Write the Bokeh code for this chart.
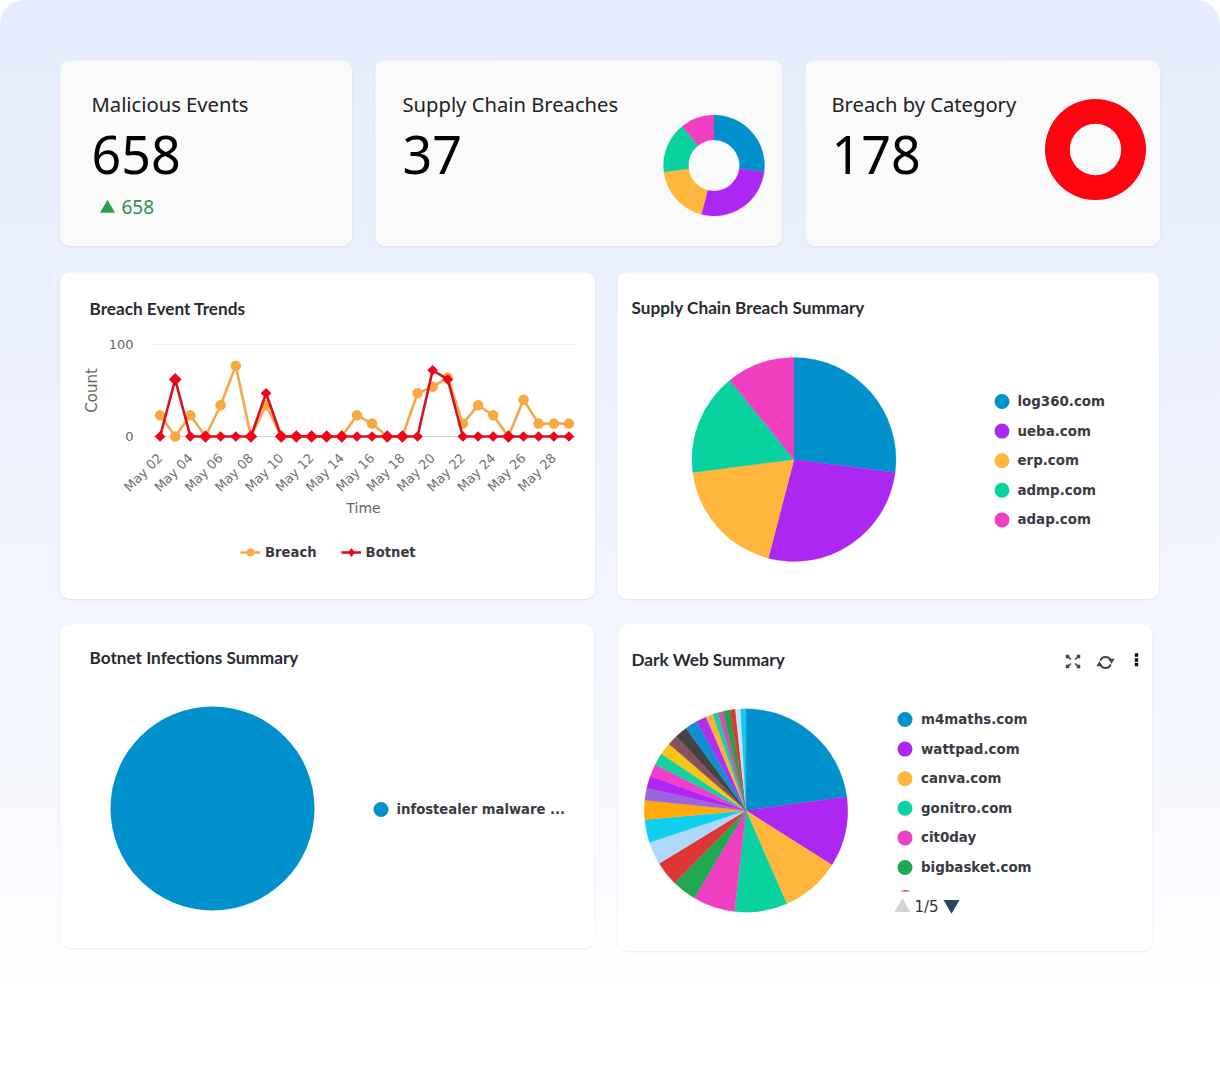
import math
from bokeh.core.properties import value
from bokeh.embed import file_html
from bokeh.layouts import column, row
from bokeh.models import (ColumnDataSource, FixedTicker, Label, Legend, LegendItem,
                          LinearAxis, Range1d)
from bokeh.plotting import figure
from bokeh.resources import INLINE

# ---------------- data ----------------
kpi_titles = ["Malicious Events", "Supply Chain Breaches", "Breach by Category"]
kpi_values = ["658", "37", "178"]
kpi_delta = "658"

days = list(range(2, 30))
tick_days = list(range(2, 29, 2))
tick_labels = ["May %02d" % d for d in tick_days]
breach = [23, 0, 23, 0, 34, 77, 0, 34, 0, 0, 0, 0, 0, 23, 14, 0, 0, 47, 54, 64, 14, 34, 23, 0, 40, 14, 14, 14]
botnet = [0, 62, 0, 0, 0, 0, 0, 47, 0, 0, 0, 0, 0, 0, 0, 0, 0, 0, 72, 62, 0, 0, 0, 0, 0, 0, 0, 0]

supply_names = ["log360.com", "ueba.com", "erp.com", "admp.com", "adap.com"]
supply_values = [10, 10, 7, 6, 4]
supply_colors = ["#0091cd", "#ad27f2", "#ffb63c", "#0ad1a0", "#f03fc0"]

category_values = [178]
category_colors = ["#fe0310"]

botnet_names = ["infostealer malware ..."]
botnet_values = [1]
botnet_colors = ["#0091cd"]

dark_names = ["m4maths.com", "wattpad.com", "canva.com", "gonitro.com", "cit0day", "bigbasket.com"]
dark_values = [82, 40, 34, 30, 24, 14, 14, 13, 13, 11, 7, 7, 7, 7, 7, 6, 7, 7, 6, 4, 3, 3, 4, 3, 3, 3]
dark_colors = ["#0091cd", "#ad27f2", "#ffb63c", "#0ad1a0", "#f03fc0", "#1fa84f", "#dd3535", "#aed8fa",
               "#10cfee", "#ffa90a", "#9b66dd", "#b026f5", "#f03fc8", "#18cf9f", "#f5c518", "#8b5060",
               "#444444", "#0e90d2", "#b030f0", "#ffb040", "#18cf9f", "#d050b0", "#2a9d50", "#d93a30",
               "#c4e2fb", "#16c8ef"]

BOLD = "DejaVu Sans"
TITLE = "Lato"
KPI = "Noto Sans"
ORIGINS = {}
CARD_STYLE = {"border-radius": "10px", "overflow": "hidden",
              "box-shadow": "0 1px 2px rgba(60,70,100,0.10)"}


def card(x0, y0, w, h, fill="#ffffff", margin=(0, 0, 0, 0)):
    f = figure(width=w, height=h, margin=margin, output_backend="svg", toolbar_location=None,
               x_range=Range1d(0, w), y_range=Range1d(0, h), min_border=0, frame_align=False,
               x_axis_type=None, y_axis_type=None,
               background_fill_color=fill, border_fill_color=fill, styles=CARD_STYLE)
    f.outline_line_color = None
    ORIGINS[f.id] = (x0, y0, h)
    return f


def px(f, x, y):
    x0, y0, h = ORIGINS[f.id]
    return x - x0, h - (y - y0)


def text(f, x, y, s, size, font=KPI, color="#222222", style="normal", align="left"):
    a, b = px(f, x, y)
    f.add_layout(Label(x=a, y=b, text=s, text_font=font, text_font_size=f"{size}px", text_color=color,
                       text_font_style=style, text_baseline="middle", text_align=align))


def pie(f, cx, cy, r, values, colors, inner=None):
    total = sum(values)
    a, b = px(f, cx, cy)
    if len(values) == 1:
        if inner:
            f.annulus(x=[a], y=[b], inner_radius=inner, outer_radius=r,
                      fill_color=colors[0], line_color=None)
        else:
            f.circle(x=[a], y=[b], radius=r, fill_color=colors[0], line_color=None)
        return
    cum, st, en = 0, [], []
    for v in values:
        st.append(math.pi / 2 - cum / total * 2 * math.pi)
        cum += v
        en.append(math.pi / 2 - cum / total * 2 * math.pi)
    n = len(values)
    src = ColumnDataSource(dict(s=st, e=en, c=colors[:n], x=[a] * n, y=[b] * n))
    if inner:
        f.annular_wedge(x="x", y="y", inner_radius=inner, outer_radius=r, start_angle="s", end_angle="e",
                        direction="clock", fill_color="c", line_color="c", line_width=0.3, source=src)
    else:
        f.wedge(x="x", y="y", radius=r, start_angle="s", end_angle="e", direction="clock",
                fill_color="c", line_color="c", line_width=0.3, source=src)


def pie_legend(f, mx, tx, y0, step, names, colors, size=13.4):
    xs, ys = [], []
    for i in range(len(names)):
        a, b = px(f, mx, y0 + i * step)
        xs.append(a)
        ys.append(b)
    f.scatter(x=xs, y=ys, size=15, marker="circle", fill_color=colors[:len(names)], line_color=None)
    for i, n in enumerate(names):
        text(f, tx, y0 + i * step, n, size, font=BOLD, color="#3a3a42", style="bold")


# ---------------- KPI row ----------------
KF = "#fafafb"
c1 = card(60, 60, 292, 186, KF, margin=(0, 0, 0, 0))
text(c1, 91, 103, kpi_titles[0], 20.2)
text(c1, 91, 154, kpi_values[0], 52, color="#000000")
ga, gb = px(c1, 107, 208)
c1.scatter(x=[ga], y=[gb], marker="triangle", size=15, fill_color="#27a350", line_color=None)
text(c1, 121, 206, kpi_delta, 19, color="#2e8f55")

c2 = card(375, 60, 407, 186, KF, margin=(0, 0, 0, 23))
text(c2, 402, 103, kpi_titles[1], 20.2)
text(c2, 402, 154, kpi_values[1], 52, color="#000000")
pie(c2, 713.5, 165, 50.5, supply_values, supply_colors, inner=25.5)

c3 = card(805, 60, 355, 186, KF, margin=(0, 0, 0, 23))
text(c3, 831, 103, kpi_titles[2], 20.2)
text(c3, 831, 154, kpi_values[2], 52, color="#000000")
pie(c3, 1095, 149, 50.5, category_values, category_colors, inner=25.7)

# ---------------- line chart ----------------
# the frame fills the card; the axes are fixed inside it
CW, CH = 535, 327
PX_DAY = 424 / 28      # pixels per day
PX_COUNT = 0.92        # pixels per count
x_lo = 1.5 - 92 / PX_DAY
x_hi = 29.5 + 19 / PX_DAY
y_lo = -(599 - 436) / PX_COUNT
y_hi = (436 - 272) / PX_COUNT
line = figure(width=CW, height=CH, margin=(0, 0, 0, 0), output_backend="svg", toolbar_location=None,
              x_range=Range1d(x_lo, x_hi), y_range=Range1d(y_lo, y_hi), frame_align=False, min_border=0,
              x_axis_type=None, y_axis_type=None, background_fill_color="#ffffff", border_fill_color="#ffffff",
              styles=CARD_STYLE)
line.outline_line_color = None
xa = LinearAxis(ticker=FixedTicker(ticks=tick_days), fixed_location=-10,
                major_label_overrides=dict(zip(tick_days, tick_labels)),
                major_label_orientation=math.pi / 4, major_label_text_font="DejaVu Sans",
                major_label_text_font_size="13px", major_label_text_color="#707070",
                major_label_standoff=4, major_tick_line_color=None, minor_tick_line_color=None,
                axis_line_color=None)
ya = LinearAxis(ticker=FixedTicker(ticks=[0, 100]), fixed_location=1.5, major_label_text_font="DejaVu Sans",
                major_label_text_font_size="13px", major_label_text_color="#666666",
                major_label_standoff=13, major_tick_line_color=None, minor_tick_line_color=None,
                axis_line_color=None)
line.add_layout(xa, "below")
line.add_layout(ya, "left")
line.segment(x0=[1.5], y0=[100], x1=[29.5], y1=[100], line_color="#f0f0f0", line_width=1)
line.segment(x0=[1.5], y0=[0], x1=[29.5], y1=[0], line_color="#d8d8d8", line_width=1)
breach_size = [0 if (b == 0 and k == 0) else 10.5 for b, k in zip(breach, botnet)]
botnet_size = [9 if b == 0 else 7.5 for b in breach]
src = ColumnDataSource(dict(x=days, b=breach, k=botnet, bs=breach_size, ks=botnet_size))
l1 = line.line("x", "b", source=src, line_color="#f5a74a", line_width=2.6)
s1 = line.scatter("x", "b", source=src, marker="circle", size="bs", fill_color="#f8a940", line_color=None)
l2 = line.line("x", "k", source=src, line_color="#d8101f", line_width=2.6)
s2 = line.scatter("x", "k", source=src, marker="square", angle=math.pi / 4, size="ks",
                  fill_color="#ee0518", line_color=None)
key = line.scatter(x=[float("nan")], y=[float("nan")], marker="diamond", size=10,
                   fill_color="#ee0518", line_color="#ee0518")
leg = Legend(items=[LegendItem(label=value("Breach"), renderers=[l1, s1]),
                    LegendItem(label=value("Botnet"), renderers=[l2, key])],
             orientation="horizontal", location=(180, 37), background_fill_alpha=0, border_line_alpha=0,
             label_text_font=BOLD, label_text_font_style="bold", label_text_font_size="13.2px",
             label_text_color="#3a3a42", glyph_width=20, glyph_height=20, spacing=24, margin=0, padding=0)
line.add_layout(leg)
line.add_layout(Label(x=29, y=599 - 307.5, x_units="screen", y_units="screen",
                      text="Breach Event Trends", text_font=TITLE, text_font_size="17.2px",
                      text_font_style="bold", text_color="#2a2a30", text_baseline="middle"))
line.add_layout(Label(x=363 - 60, y=599 - 507, x_units="screen", y_units="screen", text="Time",
                      text_font="DejaVu Sans", text_font_size="14px", text_color="#666666",
                      text_baseline="middle", text_align="center"))
line.add_layout(Label(x=91 - 60, y=599 - 390, x_units="screen", y_units="screen", text="Count",
                      text_font="DejaVu Sans", text_font_size="15px", text_color="#666666",
                      text_baseline="middle", text_align="center", angle=math.pi / 2))

# ---------------- supply pie ----------------
c5 = card(617, 272, 542, 327, "#ffffff", margin=(0, 0, 0, 22))
text(c5, 631, 307, "Supply Chain Breach Summary", 17.2, font=TITLE, color="#2a2a30", style="bold")
pie(c5, 793.5, 459, 102, supply_values, supply_colors)
pie_legend(c5, 1001.5, 1017, 401, 29.6, supply_names, supply_colors)

# ---------------- botnet pie ----------------
c6 = card(60, 624, 534, 324, "#ffffff")
text(c6, 89, 657, "Botnet Infections Summary", 17.2, font=TITLE, color="#2a2a30", style="bold")
pie(c6, 212, 808, 102, botnet_values, botnet_colors)
pie_legend(c6, 380.5, 396, 809, 29.6, botnet_names, botnet_colors, size=13.2)

# ---------------- dark web pie ----------------
c7 = card(618, 624, 534, 327, "#ffffff", margin=(0, 0, 0, 24))
text(c7, 631, 659, "Dark Web Summary", 17.2, font=TITLE, color="#2a2a30", style="bold")
pie(c7, 745.5, 810, 101.7, dark_values, dark_colors)
pie_legend(c7, 904.5, 920.5, 719, 29.6, dark_names, dark_colors)
ra, rb = px(c7, 905, 897)
c7.scatter(x=[ra], y=[rb], size=15, marker="circle", fill_color=dark_colors[6], line_color=None)
qa, qb = px(c7, 905, 899)
c7.rect(x=[qa], y=[qb], width=24, height=16, fill_color="#ffffff", line_color=None)
ta, tb = px(c7, 902, 907)
c7.scatter(x=[ta], y=[tb], marker="triangle", size=16, fill_color="#d4d4d4", line_color=None)
ta, tb = px(c7, 951, 904)
c7.scatter(x=[ta], y=[tb], marker="inverted_triangle", size=16, fill_color="#2a4560", line_color=None)
text(c7, 914, 906, "1/5", 15, font="DejaVu Sans", color="#333333")

# icons: expand, refresh, kebab
ic = "#444444"
for sx, sy in ((-1, -1), (1, -1), (-1, 1), (1, 1)):
    x1, y1 = px(c7, 1072.5 + sx * 2, 661 + sy * 2)
    x2, y2 = px(c7, 1072.5 + sx * 5.5, 661 + sy * 5)
    c7.segment(x0=[x1], y0=[y1], x1=[x2], y1=[y2], line_color=ic, line_width=1.6)
    c7.scatter(x=[x2], y=[y2], marker="square", size=3.5, fill_color=ic, line_color=None)
ca, cb = px(c7, 1105, 662)
c7.arc(x=[ca], y=[cb], radius=5.5, start_angle=math.radians(20), end_angle=math.radians(160), line_color=ic, line_width=2)
c7.arc(x=[ca], y=[cb], radius=5.5, start_angle=math.radians(200), end_angle=math.radians(340), line_color=ic, line_width=2)
ha, hb = px(c7, 1111, 660)
c7.scatter(x=[ha], y=[hb], marker="inverted_triangle", size=6, fill_color=ic, line_color=None)
ha, hb = px(c7, 1099, 664)
c7.scatter(x=[ha], y=[hb], marker="triangle", size=6, fill_color=ic, line_color=None)
for dy in (654.5, 659.5, 664):
    ka, kb = px(c7, 1136, dy)
    c7.scatter(x=[ka], y=[kb], marker="square", size=3.4, fill_color="#111111", line_color=None)

# ---------------- layout ----------------
r1 = row(c1, c2, c3, margin=(60, 0, 0, 60))
r2 = row(line, c5, margin=(26, 0, 0, 60))
r3 = row(c6, c7, margin=(25, 0, 0, 60))
root = column(r1, r2, r3, width=1220, height=1068,
              styles={"background": "linear-gradient(180deg,#e4ecfd 0%,#eef2fe 40%,#f7f9ff 75%,#ffffff 95%)",
                      "border-radius": "24px 24px 0 0"})
open("out.html", "w").write(file_html(root, INLINE))
